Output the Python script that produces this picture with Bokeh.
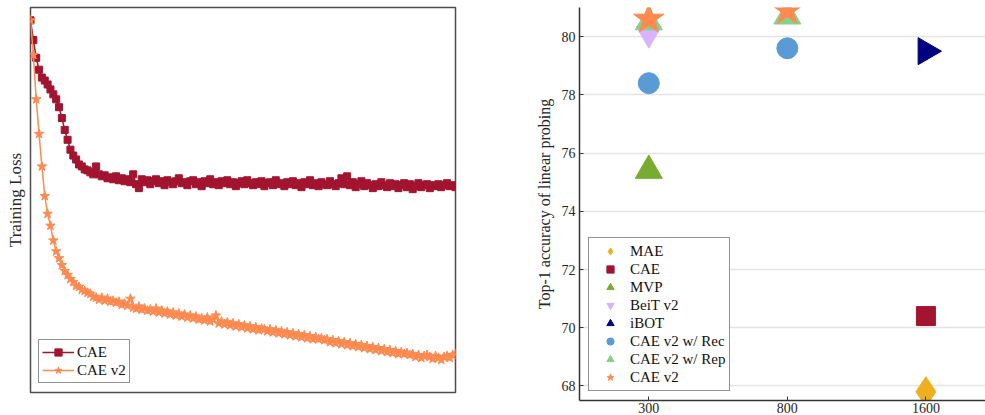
from bokeh.plotting import figure
from bokeh.layouts import row
from bokeh.models import Range1d, FixedTicker, Legend, LegendItem
from bokeh.embed import file_html
from bokeh.resources import INLINE

# ---------------- data: training loss curves (arbitrary loss units) ----------------
cae_loss = [
    3.80, 3.60, 3.42, 3.30, 3.22, 3.19, 3.15, 3.10, 3.05, 3.00,
    2.92, 2.81, 2.69, 2.59, 2.49, 2.43, 2.39, 2.34, 2.32, 2.29,
    2.28, 2.26, 2.24, 2.32, 2.24, 2.22, 2.23, 2.20, 2.21, 2.19,
    2.22, 2.18, 2.20, 2.17, 2.19, 2.16, 2.24, 2.14, 2.10, 2.19,
    2.16, 2.18, 2.14, 2.17, 2.19, 2.15, 2.17, 2.13, 2.18, 2.16,
    2.14, 2.17, 2.20, 2.15, 2.16, 2.13, 2.17, 2.18, 2.14, 2.16,
    2.12, 2.17, 2.15, 2.19, 2.14, 2.16, 2.13, 2.17, 2.15, 2.18,
    2.14, 2.16, 2.12, 2.15, 2.17, 2.14, 2.18, 2.15, 2.13, 2.16,
    2.14, 2.17, 2.12, 2.15, 2.16, 2.13, 2.18, 2.14, 2.15, 2.12,
    2.16, 2.14, 2.17, 2.13, 2.15, 2.11, 2.16, 2.14, 2.18, 2.13,
    2.15, 2.12, 2.16, 2.14, 2.13, 2.17, 2.14, 2.12, 2.15, 2.20,
    2.14, 2.22, 2.13, 2.16, 2.11, 2.14, 2.17, 2.12, 2.15, 2.13,
    2.10, 2.14, 2.12, 2.16, 2.13, 2.11, 2.15, 2.12, 2.14, 2.10,
    2.13, 2.15, 2.11, 2.14, 2.09, 2.12, 2.15, 2.11, 2.13, 2.14,
    2.10, 2.13, 2.12, 2.14, 2.11, 2.13, 2.15, 2.12, 2.13, 2.11,
]
cae_v2_loss = [
    3.80, 3.45, 3.00, 2.65, 2.32, 2.02, 1.84, 1.72, 1.57, 1.46,
    1.39, 1.32, 1.26, 1.22, 1.18, 1.15, 1.11, 1.10, 1.07, 1.06,
    1.04, 1.03, 1.00, 0.99, 0.97, 0.99, 0.96, 0.98, 0.95, 0.96,
    0.94, 0.95, 0.92, 0.93, 0.91, 0.98, 0.89, 0.88, 0.90, 0.87,
    0.88, 0.86, 0.87, 0.85, 0.88, 0.84, 0.86, 0.83, 0.85, 0.82,
    0.84, 0.81, 0.83, 0.80, 0.82, 0.79, 0.81, 0.78, 0.80, 0.77,
    0.78, 0.76, 0.79, 0.75, 0.77, 0.81, 0.73, 0.75, 0.72, 0.74,
    0.71, 0.73, 0.70, 0.72, 0.69, 0.71, 0.68, 0.70, 0.67, 0.69,
    0.66, 0.68, 0.67, 0.65, 0.67, 0.64, 0.66, 0.63, 0.65, 0.62,
    0.64, 0.61, 0.63, 0.60, 0.62, 0.59, 0.61, 0.58, 0.60, 0.57,
    0.59, 0.57, 0.58, 0.56, 0.57, 0.54, 0.56, 0.53, 0.55, 0.52,
    0.54, 0.51, 0.53, 0.50, 0.52, 0.49, 0.51, 0.48, 0.50, 0.47,
    0.49, 0.46, 0.48, 0.45, 0.47, 0.44, 0.46, 0.43, 0.45, 0.42,
    0.44, 0.42, 0.43, 0.41, 0.42, 0.39, 0.41, 0.38, 0.40, 0.41,
    0.39, 0.37, 0.40, 0.38, 0.36, 0.39, 0.40, 0.38, 0.41, 0.42,
]
steps = list(range(len(cae_loss)))

# ---------------- data: linear probing accuracy ----------------
epoch_labels = ["300", "800", "1600"]
mae_epochs, mae_acc = ["1600"], [67.8]
cae_epochs, cae_acc = ["1600"], [70.4]
mvp_epochs, mvp_acc = ["300"], [75.4]
beitv2_epochs, beitv2_acc = ["300"], [80.1]
ibot_epochs, ibot_acc = ["1600"], [79.5]
rec_epochs, rec_acc = ["300", "800"], [78.4, 79.6]
rep_epochs, rep_acc = ["300", "800"], [80.5, 80.7]
caev2_epochs, caev2_acc = ["300", "800"], [80.6, 80.9]

FONT = "Liberation Serif"
TXT = "#262626"
C_CAE = "#A2142F"
C_V2 = "#FF8A50"

# ---------------- left figure ----------------
p1 = figure(width=457, height=407, output_backend="svg", toolbar_location=None,
            x_range=Range1d(0, len(steps) - 1), y_range=Range1d(0.03, 3.93),
            min_border_left=30, min_border_right=2, min_border_top=7, min_border_bottom=10)
p1.xaxis.visible = False
p1.grid.visible = False
p1.yaxis.ticker = FixedTicker(ticks=[])
p1.yaxis.axis_line_color = None
p1.yaxis.major_tick_out = 0
p1.yaxis.minor_tick_out = 0
p1.yaxis.axis_label = "Training Loss"
p1.yaxis.axis_label_standoff = 6
p1.yaxis.axis_label_text_font = FONT
p1.yaxis.axis_label_text_font_style = "normal"
p1.yaxis.axis_label_text_font_size = "17px"
p1.yaxis.axis_label_text_color = TXT
p1.outline_line_color = "#4d4d4d"
p1.outline_line_width = 1.5

l_cae = p1.line(steps, cae_loss, line_color=C_CAE, line_width=1.5)
s_cae = p1.scatter(steps, cae_loss, marker="square", size=7, fill_color=C_CAE, line_color=C_CAE)
l_v2 = p1.line(steps, cae_v2_loss, line_color=C_V2, line_width=1.5)
s_v2 = p1.scatter(steps, cae_v2_loss, marker="star", size=10, fill_color=C_V2, line_color=C_V2)

leg1 = Legend(items=[LegendItem(label="CAE", renderers=[l_cae, s_cae]),
                     LegendItem(label="CAE v2", renderers=[l_v2, s_v2])],
              location=(8, 9), padding=3, spacing=0, margin=0,
              glyph_width=32, glyph_height=18, label_height=18, label_standoff=3,
              label_text_font=FONT, label_text_font_size="15px", label_text_color="#111111",
              border_line_color="#222222", border_line_width=1, background_fill_alpha=1.0)
p1.add_layout(leg1)

# ---------------- right figure ----------------
p2 = figure(width=528, height=415, output_backend="svg", toolbar_location=None,
            x_range=Range1d(-0.5, 2.43), y_range=Range1d(67.5, 81.0),
            min_border_left=122, min_border_right=0, min_border_top=7, min_border_bottom=0)
p2.outline_line_color = None
p2.xgrid.visible = False
p2.ygrid.grid_line_color = "#e4e4e4"
p2.ygrid.grid_line_width = 1.5
p2.yaxis.ticker = FixedTicker(ticks=[68, 70, 72, 74, 76, 78, 80])
p2.xaxis.ticker = FixedTicker(ticks=list(range(len(epoch_labels))))
p2.xaxis.major_label_overrides = {i: lab for i, lab in enumerate(epoch_labels)}
for ax in (p2.xaxis, p2.yaxis):
    ax.major_tick_in = 4
    ax.major_tick_out = 0
    ax.minor_tick_in = 0
    ax.minor_tick_out = 0
    ax.axis_line_color = "#333333"
    ax.axis_line_width = 1.5
    ax.major_tick_line_color = "#333333"
    ax.major_label_text_font = FONT
    ax.major_label_text_font_size = "14px"
    ax.major_label_text_color = TXT
p2.xaxis.major_label_standoff = 2
p2.yaxis.major_label_standoff = 4
p2.yaxis.axis_label = "Top-1 accuracy of linear probing"
p2.yaxis.axis_label_standoff = 6
p2.yaxis.axis_label_text_font = FONT
p2.yaxis.axis_label_text_font_style = "normal"
p2.yaxis.axis_label_text_font_size = "16px"
p2.yaxis.axis_label_text_color = TXT


def xi(eps):
    return [epoch_labels.index(e) for e in eps]


series = [
    ("MAE", mae_epochs, mae_acc, "diamond", 30, "#EDB120"),
    ("CAE", cae_epochs, cae_acc, "square", 19, "#A2142F"),
    ("MVP", mvp_epochs, mvp_acc, "triangle", 27, "#77AC30"),
    ("BeiT v2", beitv2_epochs, beitv2_acc, "inverted_triangle", 25, "#D9B3FF"),
    ("iBOT", ibot_epochs, ibot_acc, "triangle", 27, "#000080"),
    ("CAE v2 w/ Rec", rec_epochs, rec_acc, "circle", 21, "#5B9BD5"),
    ("CAE v2 w/ Rep", rep_epochs, rep_acc, "triangle", 27, "#88D08A"),
    ("CAE v2", caev2_epochs, caev2_acc, "star", 32, "#FF8A50"),
]
items = []
for label, eps, acc, marker, size, color in series:
    kw = {}
    if label == "iBOT":
        kw["angle"] = -1.5707963267948966
    r = p2.scatter(xi(eps), acc, marker=marker, size=size, fill_color=color,
                   line_color=color, **kw)
    items.append(LegendItem(label=label, renderers=[r]))

leg2 = Legend(items=items, location=(9, 9), padding=4, spacing=0, margin=0,
              glyph_width=34, glyph_height=18, label_height=18, label_standoff=3,
              label_text_font=FONT, label_text_font_size="15px", label_text_color="#111111",
              border_line_color="#222222", border_line_width=1, background_fill_alpha=1.0)
p2.add_layout(leg2)

layout = row(p1, p2, spacing=0)
open("out.html", "w").write(file_html(layout, INLINE))
